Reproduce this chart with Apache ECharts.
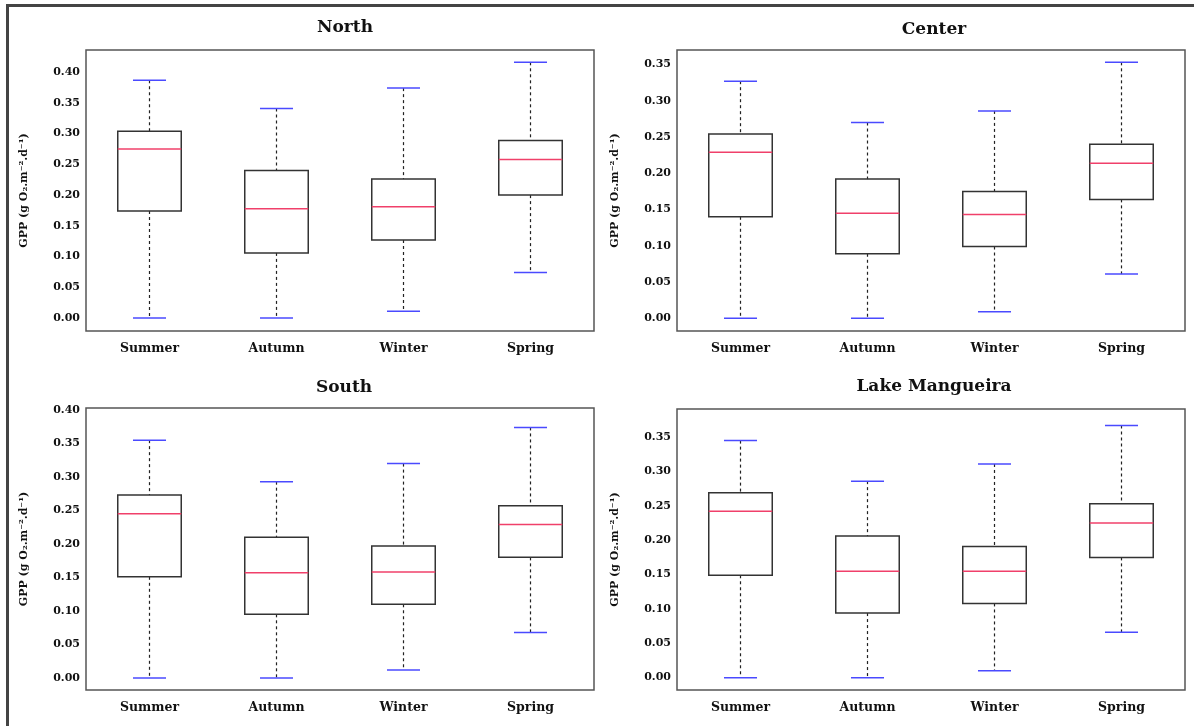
<!DOCTYPE html>
<html>
<head>
<meta charset="utf-8">
<script src="https://cdn.jsdelivr.net/npm/echarts@6/dist/echarts.min.js"></script>
<style>
  html, body { margin: 0; padding: 0; background: #fff; }
  #chart { width: 1194px; height: 726px; }
</style>
</head>
<body>
<div id="chart"></div>
<script>
const seasons = ['Summer', 'Autumn', 'Winter', 'Spring']
const regions = ['North', 'Center', 'South', 'Lake Mangueira']

// [min, Q1, median, Q3, max] per season
const north = [
    [0.000, 0.174, 0.275, 0.304, 0.387],
    [0.000, 0.106, 0.178, 0.240, 0.341],
    [0.011, 0.127, 0.181, 0.226, 0.374],
    [0.074, 0.200, 0.258, 0.289, 0.416]
]
const center = [
    [0.000, 0.140, 0.229, 0.254, 0.327],
    [0.000, 0.089, 0.145, 0.192, 0.270],
    [0.009, 0.099, 0.143, 0.175, 0.286],
    [0.061, 0.164, 0.214, 0.240, 0.353]
]
const south = [
    [0.000, 0.151, 0.245, 0.273, 0.355],
    [0.000, 0.095, 0.157, 0.210, 0.293],
    [0.012, 0.110, 0.158, 0.197, 0.320],
    [0.068, 0.180, 0.229, 0.257, 0.374]
]
const lake = [
    [0.000, 0.149, 0.242, 0.269, 0.345],
    [0.000, 0.094, 0.155, 0.206, 0.286],
    [0.010, 0.108, 0.155, 0.191, 0.311],
    [0.066, 0.175, 0.225, 0.253, 0.367]
]

// y tick labels for each panel
const ticksTo40 = [0, 0.05, 0.10, 0.15, 0.20, 0.25, 0.30, 0.35, 0.40]
const ticksTo35 = [0, 0.05, 0.10, 0.15, 0.20, 0.25, 0.30, 0.35]

const panels = [
    { name: regions[0], data: north, ticks: ticksTo40, min: -0.021, max: 0.436,
      grid: { left: 86, top: 50, width: 508, height: 281 }, title: [340, 14] },
    { name: regions[1], data: center, ticks: ticksTo35, min: -0.0175, max: 0.370,
      grid: { left: 677, top: 50, width: 508, height: 281 }, title: [929, 16] },
    { name: regions[2], data: south, ticks: ticksTo40, min: -0.018, max: 0.403,
      grid: { left: 86, top: 408, width: 508, height: 282 }, title: [339, 374] },
    { name: regions[3], data: lake, ticks: ticksTo35, min: -0.018, max: 0.391,
      grid: { left: 677, top: 409, width: 508, height: 281 }, title: [929, 373] }
]

const font = 'DejaVu Serif'

const renderBox = (params, api) => {
    const x = api.value(0)
    const band = api.size([1, 0])[0]
    const boxW = band * 0.5
    const capW = band * 0.26
    const pMin = api.coord([x, api.value(1)])
    const pQ1 = api.coord([x, api.value(2)])
    const pMed = api.coord([x, api.value(3)])
    const pQ3 = api.coord([x, api.value(4)])
    const pMax = api.coord([x, api.value(5)])
    const cx = pMin[0]
    const dash = { stroke: '#222', lineWidth: 1.2, lineDash: [3, 3] }
    return {
        type: 'group',
        children: [
            { type: 'line', shape: { x1: cx, y1: pMax[1], x2: cx, y2: pQ3[1] }, style: dash },
            { type: 'line', shape: { x1: cx, y1: pQ1[1], x2: cx, y2: pMin[1] }, style: dash },
            {
                type: 'rect',
                shape: { x: cx - boxW / 2, y: pQ3[1], width: boxW, height: pQ1[1] - pQ3[1] },
                style: { fill: 'none', stroke: '#333', lineWidth: 1.5 }
            },
            {
                type: 'line',
                shape: { x1: cx - boxW / 2, y1: pMed[1], x2: cx + boxW / 2, y2: pMed[1] },
                style: { stroke: '#f0406a', lineWidth: 1.5 }
            },
            {
                type: 'line',
                shape: { x1: cx - capW / 2, y1: pMax[1], x2: cx + capW / 2, y2: pMax[1] },
                style: { stroke: '#4a4aff', lineWidth: 1.5 }
            },
            {
                type: 'line',
                shape: { x1: cx - capW / 2, y1: pMin[1], x2: cx + capW / 2, y2: pMin[1] },
                style: { stroke: '#4a4aff', lineWidth: 1.5 }
            }
        ]
    }
}

const chart = echarts.init(document.getElementById('chart'))

chart.setOption({
    backgroundColor: '#fff',
    animation: false,
    title: panels.map(p => ({
        text: p.name,
        left: p.title[0],
        top: p.title[1],
        textAlign: 'center',
        textStyle: { fontFamily: font, fontWeight: 'bold', fontSize: 17, color: '#111' }
    })),
    grid: panels.map(p => ({
        ...p.grid,
        show: true,
        borderColor: '#555',
        borderWidth: 1.5,
        backgroundColor: 'transparent'
    })),
    xAxis: panels.map((p, i) => ({
        type: 'category',
        gridIndex: i,
        data: seasons,
        axisLine: { show: false },
        axisTick: { show: false },
        axisLabel: { fontFamily: font, fontWeight: 'bold', fontSize: 12.5, color: '#111', margin: 11 }
    })),
    yAxis: panels.map((p, i) => ({
        type: 'value',
        gridIndex: i,
        min: p.min,
        max: p.max,
        name: 'GPP (g O₂.m⁻².d⁻¹)',
        nameLocation: 'middle',
        nameGap: 56,
        nameTextStyle: { fontFamily: font, fontWeight: 'bold', fontSize: 11, color: '#111' },
        axisLine: { show: false },
        axisTick: { show: false },
        splitLine: { show: false },
        axisLabel: {
            customValues: p.ticks,
            formatter: v => v.toFixed(2),
            fontFamily: font,
            fontWeight: 'bold',
            fontSize: 11,
            color: '#111',
            margin: 6
        }
    })),
    series: panels.map((p, i) => ({
        type: 'custom',
        name: p.name,
        xAxisIndex: i,
        yAxisIndex: i,
        renderItem: renderBox,
        encode: { x: 0, y: [1, 2, 3, 4, 5] },
        data: p.data.map((d, k) => [k, ...d])
    })),
    graphic: [
        { type: 'line', shape: { x1: 6, y1: 5.5, x2: 1194, y2: 5.5 }, style: { stroke: '#444', lineWidth: 3 } },
        { type: 'line', shape: { x1: 7.5, y1: 4, x2: 7.5, y2: 726 }, style: { stroke: '#444', lineWidth: 3 } }
    ]
})
</script>
</body>
</html>
